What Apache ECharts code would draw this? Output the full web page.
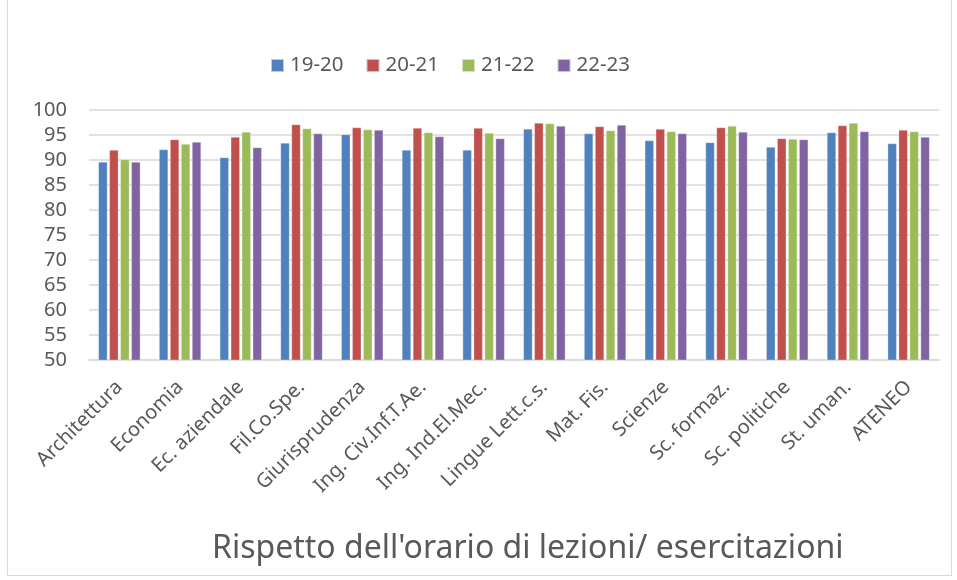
<!DOCTYPE html>
<html><head><meta charset="utf-8">
<script src="https://cdn.jsdelivr.net/npm/echarts@6/dist/echarts.min.js"></script>
<style>html,body{margin:0;padding:0;background:#fff}#c{width:957px;height:580px}
#frame{position:absolute;left:7px;top:0px;width:943px;height:575px;border:1px solid #d9d9d9;border-top:none;pointer-events:none}</style>
</head><body><div id="c"></div><div id="frame"></div>
<script>
const categories = ["Architettura","Economia","Ec. aziendale","Fil.Co.Spe.","Giurisprudenza","Ing. Civ.Inf.T.Ae.","Ing. Ind.El.Mec.","Lingue Lett.c.s.","Mat. Fis.","Scienze","Sc. formaz.","Sc. politiche","St. uman.","ATENEO"];
const seriesNames = ["19-20","20-21","21-22","22-23"];
const s1920 = [89.6,92.1,90.5,93.4,95.1,92.0,92.0,96.2,95.3,93.9,93.5,92.6,95.5,93.3];
const s2021 = [92.0,94.1,94.6,97.1,96.5,96.4,96.4,97.4,96.7,96.2,96.5,94.3,96.9,96.0];
const s2122 = [90.1,93.2,95.6,96.3,96.1,95.5,95.4,97.3,95.9,95.7,96.8,94.2,97.4,95.7];
const s2223 = [89.6,93.6,92.5,95.3,96.0,94.7,94.3,96.8,97.0,95.3,95.6,94.1,95.7,94.6];
const yTicks = {min:50,max:100,interval:5};
const titleText = "Rispetto dell'orario di lezioni/ esercitazioni";
const colors = ["#4F81BD","#C0504D","#9BBB59","#8064A2"];
const font = "Noto Sans";
const chart = echarts.init(document.getElementById('c'));
const data = [s1920,s2021,s2122,s2223];
chart.setOption({
  animation:false,
  textStyle:{fontFamily:font},
  title:{text:titleText,left:207,top:528,textStyle:{fontFamily:font,fontSize:32,fontWeight:'normal',color:'#595959'}},
  legend:{top:50,left:265,itemWidth:13,itemHeight:13,itemGap:22,icon:'rect',
    textStyle:{fontFamily:font,fontSize:20.5,color:'#595959',padding:[0,0,0,1]}},
  grid:{left:89,right:18,top:110,bottom:220,containLabel:false},
  xAxis:{type:'category',data:categories,
    axisLine:{lineStyle:{color:'#d9d9d9',width:1.5}},axisTick:{show:false},
    axisLabel:{rotate:45,interval:0,color:'#595959',fontSize:20,fontFamily:font,margin:24}},
  yAxis:{type:'value',min:yTicks.min,max:yTicks.max,interval:yTicks.interval,
    axisLine:{show:false},axisTick:{show:false},
    axisLabel:{color:'#595959',fontSize:20,fontFamily:font,margin:22}},
  series:seriesNames.map((n,i)=>({name:n,type:'bar',data:data[i],barWidth:9,barGap:'22%',
    itemStyle:{color:colors[i],borderColor:'rgba(255,255,255,0.6)',borderWidth:0.5}}))
});
chart.setOption({yAxis:{splitLine:{lineStyle:{color:'#d9d9d9',width:1.5}}}});
</script></body></html>
